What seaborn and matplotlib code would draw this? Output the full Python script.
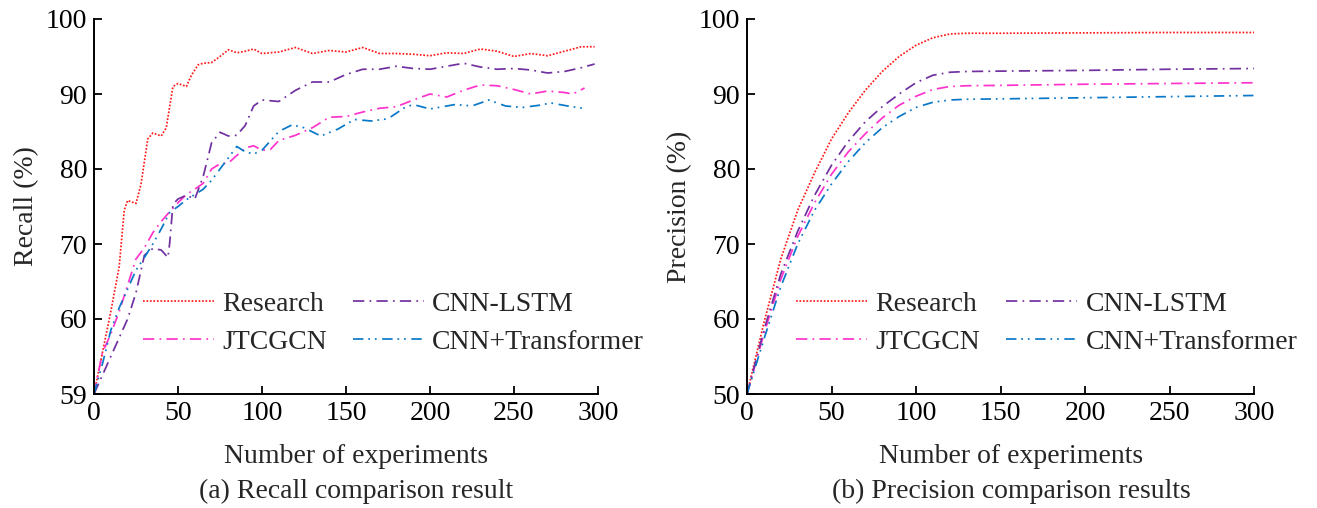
import numpy as np
import pandas as pd
import matplotlib
matplotlib.use("Agg")
import matplotlib.pyplot as plt
import seaborn as sns

# ---------------- data ----------------
series_names = ["Research", "JTCGCN", "CNN-LSTM", "CNN+Transformer"]

# (a) Recall  (bottom of axis drawn at 50, labelled "59" as in the source)
rec_research_x = [0, 5, 10, 15, 18, 20, 25, 28, 32, 35, 40, 43, 47, 50, 55, 58, 62, 65, 70, 75, 80, 85, 90, 95, 100, 110, 120,
                  130, 140, 150, 160, 170, 180, 190, 200, 210, 220, 230, 240, 250, 260, 270, 280, 290, 298]
rec_research_y = [50, 55.5, 61, 67, 74.5, 75.8, 75.4, 78, 84, 84.8, 84.4, 85.5, 91, 91.4, 91.0, 92.5, 93.9, 94.1, 94.2, 95.0, 95.9, 95.5, 95.7, 96.0, 95.4, 95.6, 96.2,
                  95.4, 95.8, 95.6, 96.2, 95.4, 95.4, 95.3, 95.1, 95.5, 95.4, 96.0, 95.7, 95.0, 95.4, 95.1, 95.7, 96.3, 96.3]

rec_jtcgcn_x = [0, 5, 10, 15, 20, 25, 30, 35, 40, 45, 50, 55, 60, 65, 70, 75, 80, 85, 90, 95, 100, 105, 110, 120,
                130, 140, 150, 160, 170, 180, 190, 200, 210, 220, 230, 240, 250, 260, 270, 280, 285, 292]
rec_jtcgcn_y = [50, 55.5, 58, 61, 64.5, 68, 69.5, 71.5, 73, 74.3, 75.5, 76.6, 77.3, 78.1, 80, 80.7, 80.8, 81.8, 82.8, 83.1, 82.5, 82.6, 83.8, 84.5,
                85.5, 86.9, 87.0, 87.6, 88.1, 88.3, 89.2, 90.0, 89.6, 90.5, 91.2, 91.1, 90.6, 90.0, 90.4, 90.2, 90.0, 90.8]

rec_cnnlstm_x = [0, 5, 10, 15, 20, 25, 30, 35, 40, 44, 45, 47, 50, 55, 60, 65, 70, 75, 80, 85, 90, 95, 100, 110, 120,
                 130, 140, 150, 160, 170, 180, 190, 200, 210, 220, 230, 240, 250, 260, 270, 280, 290, 298]
rec_cnnlstm_y = [50, 52.5, 55, 57.5, 60, 63.5, 68.5, 69.4, 69.2, 68.2, 70, 75.3, 76, 76.5, 76, 79, 83.5, 84.9, 84.4, 84.5, 85.8, 88.4, 89.2, 89, 90.5,
                 91.6, 91.6, 92.6, 93.3, 93.3, 93.7, 93.4, 93.3, 93.7, 94.1, 93.6, 93.3, 93.4, 93.2, 92.8, 93.0, 93.5, 94.0]

rec_cnntr_x = [0, 5, 10, 15, 20, 25, 30, 35, 40, 45, 50, 55, 60, 65, 70, 75, 80, 85, 90, 95, 100, 110, 118, 125,
               135, 145, 155, 165, 175, 185, 190, 200, 210, 215, 225, 235, 245, 255, 265, 272, 282, 291]
rec_cnntr_y = [50, 54, 58.5, 61.5, 64, 66.5, 68.2, 70, 72, 74.2, 75, 75.9, 76.6, 77.3, 78.5, 80, 81.5, 83, 82.3, 82, 82.5, 85, 85.9, 85.5,
               84.4, 85.3, 86.6, 86.4, 86.7, 88.2, 88.6, 88.0, 88.4, 88.6, 88.4, 89.2, 88.4, 88.2, 88.5, 88.8, 88.4, 88.1]

# (b) Precision
prec_x = [0, 10, 20, 30, 40, 50, 60, 70, 80, 90, 100, 110, 120, 130, 150, 200, 250, 300]
prec_research = [50, 59.5, 68, 74.5, 79.5, 84, 87.5, 90.5, 93, 95, 96.5, 97.5, 98, 98.1, 98.1, 98.15, 98.2, 98.2]
prec_jtcgcn = [50, 58, 65.3, 71, 75.5, 79.3, 82.3, 84.7, 86.8, 88.5, 89.7, 90.6, 91, 91.1, 91.15, 91.3, 91.4, 91.5]
prec_cnnlstm = [50, 58.5, 66, 71.7, 76.5, 80.5, 83.7, 86.3, 88.3, 90, 91.5, 92.5, 92.9, 93, 93.05, 93.15, 93.3, 93.4]
prec_cnntr = [50, 57.3, 64.3, 70, 74.5, 78, 81, 83.5, 85.5, 87, 88.2, 88.9, 89.2, 89.3, 89.35, 89.5, 89.65, 89.8]

xticks = [0, 50, 100, 150, 200, 250, 300]
rec_yticks = [50, 60, 70, 80, 90, 100]
rec_yticklabels = ["59", "60", "70", "80", "90", "100"]
prec_yticks = [50, 60, 70, 80, 90, 100]
prec_yticklabels = ["50", "60", "70", "80", "90", "100"]

# ---------------- style ----------------
sns.set_style("ticks")
plt.rcParams["font.family"] = ["Liberation Serif", "DejaVu Serif"]
plt.rcParams["mathtext.fontset"] = "stix"

FS = 20
colors = {"Research": "#FF1A1A", "JTCGCN": "#FF33CC", "CNN-LSTM": "#7030A0", "CNN+Transformer": "#0A78C8"}
styles = {"Research": (0, (1, 1)),
          "JTCGCN": (0, (6.5, 3, 1, 3)),
          "CNN-LSTM": (0, (6.5, 3, 1, 3)),
          "CNN+Transformer": (0, (6, 2.8, 1, 2.8, 1, 3.2))}

fig = plt.figure(figsize=(13.17, 5.08), dpi=100)
axL = fig.add_axes([94 / 1317, 1 - 394 / 508, 504 / 1317, 375 / 508])
axR = fig.add_axes([747 / 1317, 1 - 394 / 508, 507 / 1317, 375 / 508])

rec_data = {"Research": (rec_research_x, rec_research_y),
            "JTCGCN": (rec_jtcgcn_x, rec_jtcgcn_y),
            "CNN-LSTM": (rec_cnnlstm_x, rec_cnnlstm_y),
            "CNN+Transformer": (rec_cnntr_x, rec_cnntr_y)}
prec_data = {"Research": (prec_x, prec_research),
             "JTCGCN": (prec_x, prec_jtcgcn),
             "CNN-LSTM": (prec_x, prec_cnnlstm),
             "CNN+Transformer": (prec_x, prec_cnntr)}


def draw(ax, data, yticks, yticklabels, ylabel, subtitle):
    for name in series_names:
        xs, ys = data[name]
        df = pd.DataFrame({"x": xs, "y": ys})
        sns.lineplot(data=df, x="x", y="y", ax=ax, color=colors[name],
                     linestyle=styles[name], linewidth=1.25, label=name,
                     estimator=None, sort=False)
    ax.set_xlim(0, 300)
    ax.set_ylim(50, 100)
    ax.set_xticks(xticks)
    ax.set_xticklabels([str(t) for t in xticks])
    ax.set_yticks(yticks)
    ax.set_yticklabels(yticklabels)
    ax.tick_params(direction="in", length=6, width=1.3, labelsize=FS, colors="black")
    ax.tick_params(axis="x", pad=5)
    ax.tick_params(axis="y", pad=5)
    for s in ["top", "right"]:
        ax.spines[s].set_visible(False)
    for s in ["left", "bottom"]:
        ax.spines[s].set_linewidth(1.4)
        ax.spines[s].set_color("black")
    ax.set_xlabel("Number of experiments", fontsize=FS, labelpad=13)
    ax.xaxis.label.set_x(0.52)
    ax.set_ylabel(ylabel, fontsize=FS, labelpad=5)
    h, l = ax.get_legend_handles_labels()
    ax.legend(h, l, ncol=2, loc="upper left", bbox_to_anchor=(0.097, 0.274),
              frameon=False, fontsize=FS, handlelength=2.55, handletextpad=0.3,
              columnspacing=0.95, labelspacing=0.45, borderpad=0, borderaxespad=0)
    pos = ax.get_position()
    fig.text(pos.x0 + pos.width / 2 + 0.008, 1 - 491 / 508, subtitle, fontsize=FS,
             ha="center", va="center")


draw(axL, rec_data, rec_yticks, rec_yticklabels, "Recall (%)", "(a) Recall comparison result")
draw(axR, prec_data, prec_yticks, prec_yticklabels, "Precision (%)", "(b) Precision comparison results")

fig.savefig("out.png", dpi=100)
